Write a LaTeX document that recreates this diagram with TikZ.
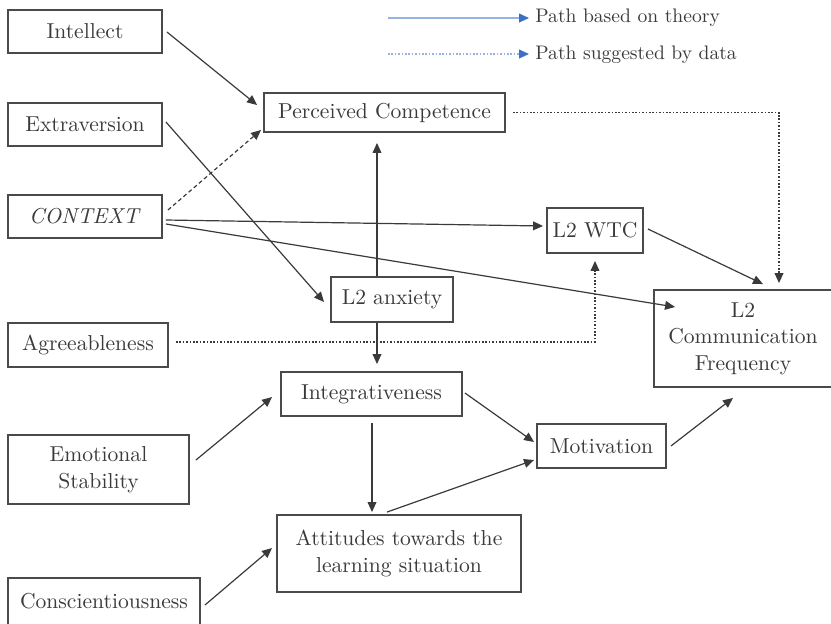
\documentclass[tikz,border=0pt]{standalone}
\usetikzlibrary{arrows.meta,calc}
\definecolor{ink}{HTML}{3A3A3A}
\definecolor{frame}{HTML}{4A4A4A}
\definecolor{legline}{HTML}{93B4E4}
\definecolor{leghead}{HTML}{3D6FC6}
\begin{document}
\begin{tikzpicture}[x=0.5pt,y=-0.5pt,
  box/.style={draw=frame,line width=0.95pt,rectangle,inner sep=0pt,align=center,
    text=ink,font=\fontsize{10.8}{13.3}\selectfont},
  tip/.style={-{Triangle[length=5pt,width=4.4pt]}},
  link/.style={draw=ink,line width=0.6pt,tip},
  dotline/.style={link,dash pattern=on 0.8pt off 0.9pt},
  dashline/.style={link,dash pattern=on 2pt off 1.4pt},
  legtext/.style={anchor=west,inner sep=0pt,text=ink,font=\fontsize{9.8}{12}\selectfont},
  legarrow/.style={draw=legline,line width=0.75pt,-{Triangle[length=5pt,width=4.4pt,color=leghead]}}]
\useasboundingbox (0,0) rectangle (831,623);

% legend
\coordinate (l1a) at (388,18);
\coordinate (l1b) at (529,18);
\coordinate (l2a) at (388,54);
\coordinate (l2b) at (529,54);
\node[legtext] (t1) at (535,18) {Path based on theory};
\node[legtext] (t2) at (535,55) {Path suggested by data};
\draw[legarrow] (l1a) -- (l1b);
\draw[legarrow,dash pattern=on 0.8pt off 0.9pt] (l2a) -- (l2b);

% predictors
\node[box,minimum width=77pt,minimum height=21.5pt] (intel) at (85,31.5) {Intellect};
\node[box,minimum width=77pt,minimum height=21.5pt] (extra) at (85,124.5) {Extraversion};
\node[box,minimum width=77pt,minimum height=21.5pt] (context) at (85,216.5) {\textit{CONTEXT}};
\node[box,minimum width=80pt,minimum height=22pt] (agree) at (88,345) {Agreeableness};
\node[box,minimum width=90.5pt,minimum height=34.5pt] (emot) at (98.5,469.5) {Emotional\\Stability};
\node[box,minimum width=96pt,minimum height=23.5pt] (consc) at (104,601.5) {Conscientiousness};

% mediators and outcome
\node[box,minimum width=120.5pt,minimum height=19.5pt] (pc) at (384.5,112.5) {Perceived Competence};
\node[box,minimum width=48pt,minimum height=22.5pt] (wtc) at (595,230.5) {L2 WTC};
\node[box,minimum width=61pt,minimum height=22.5pt] (anx) at (392,299.5) {L2 anxiety};
\node[box,minimum width=89pt,minimum height=48.5pt] (l2cf) at (743,338.5) {L2\\Communication\\Frequency};
\node[box,minimum width=90.5pt,minimum height=22pt] (integ) at (371.5,394) {Integrativeness};
\node[box,minimum width=64.5pt,minimum height=22pt] (motiv) at (601.5,446) {Motivation};
\node[box,minimum width=122pt,minimum height=38.5pt] (att) at (399,553.5) {Attitudes towards the\\learning situation};

% paths based on theory
\draw[link] ($(intel.east)+(4,0.5)$) -- ($(pc.west)+(-6,-7.5)$);
\draw[link] ($(extra.east)+(3,-2.5)$) -- ($(anx.west)+(-6,2.5)$);
\draw[link] ($(context.east)+(3,3.5)$) -- ($(wtc.west)+(-3,-4.5)$);
\draw[link] ($(context.east)+(3,7.5)$) -- ($(l2cf.west)+(22,-31.5)$);
\draw[link] ($(anx.north)+(-15,0)$) -- ($(pc.south)+(-7.5,10)$);
\draw[link] ($(anx.south)+(-15,0)$) -- ($(integ.north)+(5.5,-7)$);
\draw[link] ($(wtc.east)+(4,-1.5)$) -- ($(l2cf.north)+(20,-5)$);
\draw[link] ($(emot.east)+(6,-9.5)$) -- ($(integ.west)+(-8,3)$);
\draw[link] ($(consc.east)+(4,3.5)$) -- ($(att.west)+(-4,-5.5)$);
\draw[link] ($(integ.south)+(0.5,6)$) -- ($(att.north)+(-27,-2)$);
\draw[link] ($(att.north)+(-12,-2)$) -- ($(motiv.west)+(-2,14)$);
\draw[link] ($(integ.east)+(2,-1)$) -- ($(motiv.west)+(-2,-4)$);
\draw[link] ($(motiv.east)+(4,0)$) -- ($(l2cf.south)+(-10,10)$);

% paths suggested by data
\draw[dashline] ($(context.east)+(5,-6.5)$) -- ($(pc.south west)+(-2,-3)$);
\draw[dotline] ($(pc.east)+(7,0)$) -| ($(l2cf.north)+(36,-6)$);
\draw[dotline] ($(agree.east)+(7,-3)$) -| ($(wtc.south)+(0,7)$);
\end{tikzpicture}
\end{document}
